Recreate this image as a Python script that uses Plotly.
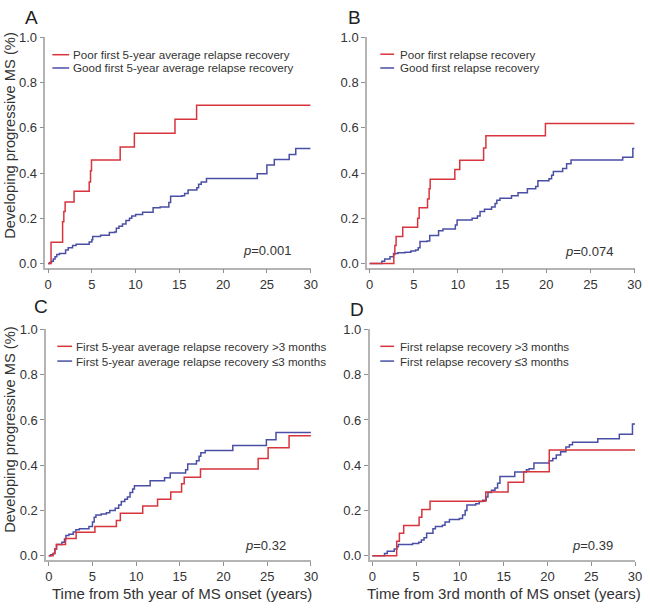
import plotly.graph_objects as go

# ---------------- data ----------------
A_red_t = [0, 0.34, 1.66, 1.8, 1.95, 2.97, 4.7, 4.85, 4.96, 8.24, 9.86, 14.5, 16.97, 30]
A_red_y = [0, 0.094, 0.185, 0.23, 0.272, 0.32, 0.36, 0.41, 0.457, 0.515, 0.576, 0.637, 0.699, 0.699]
A_blue_t = [0, 0.2, 0.4, 0.6, 0.8, 1.0, 1.3, 2.0, 2.3, 2.8, 3.2, 4.7, 5.0, 5.1, 6.0, 7.0, 7.6, 7.8, 8.1,
            8.5, 8.9, 9.3, 9.56, 10.0, 10.8, 12.0, 12.8, 13.8, 14.0, 15.3, 15.6, 16.0, 17.0, 17.2, 17.5,
            18.1, 23.9, 25.0, 25.85, 27.55, 28.3, 30]
A_blue_y = [0, 0.005, 0.01, 0.02, 0.03, 0.04, 0.045, 0.06, 0.07, 0.08, 0.085, 0.095, 0.105, 0.12, 0.125,
            0.137, 0.14, 0.156, 0.165, 0.175, 0.19, 0.2, 0.21, 0.217, 0.227, 0.247, 0.25, 0.27, 0.297, 0.30,
            0.31, 0.325, 0.335, 0.35, 0.36, 0.376, 0.397, 0.435, 0.46, 0.482, 0.508, 0.508]

B_red_t = [0, 2.73, 2.85, 2.99, 3.74, 5.43, 5.6, 6.55, 6.73, 6.85, 9.64, 10.2, 12.9, 13.16, 19.9, 30]
B_red_y = [0, 0.04, 0.08, 0.12, 0.16, 0.2, 0.247, 0.285, 0.33, 0.372, 0.416, 0.456, 0.511, 0.565, 0.619, 0.619]
B_blue_t = [0, 1.38, 1.7, 2.3, 2.7, 3.2, 4.0, 4.67, 5.2, 5.5, 5.7, 6.5, 6.8, 7.8, 8.3, 9.7, 9.9, 11.6, 12.2,
            12.5, 13.0, 13.8, 14.2, 14.4, 14.75, 16.06, 16.8, 17.86, 18.8, 19.05, 20.3, 20.6, 20.8, 21.85,
            22.3, 22.8, 28.65, 29.8, 30]
B_blue_y = [0, 0.01, 0.02, 0.03, 0.045, 0.048, 0.05, 0.055, 0.06, 0.07, 0.097, 0.10, 0.124, 0.145, 0.153,
            0.17, 0.192, 0.2, 0.21, 0.23, 0.24, 0.25, 0.265, 0.28, 0.289, 0.30, 0.313, 0.33, 0.34, 0.366,
            0.375, 0.39, 0.407, 0.42, 0.441, 0.457, 0.47, 0.508, 0.508]

C_red_t = [0, 0.49, 0.7, 0.87, 1.92, 3.13, 5.28, 7.74, 8.19, 10.75, 12.45, 13.96, 15.2, 15.5, 17.36,
           23.96, 25.1, 27.5, 30]
C_red_y = [0, 0.01, 0.03, 0.05, 0.077, 0.104, 0.13, 0.156, 0.188, 0.22, 0.25, 0.282, 0.318, 0.347, 0.383,
           0.43, 0.477, 0.53, 0.53]
C_blue_t = [0, 0.2, 0.5, 0.7, 0.9, 1.5, 1.8, 1.96, 2.3, 2.8, 3.1, 3.5, 4.6, 5.0, 5.2, 5.4, 6.0, 6.6, 6.98,
            7.6, 8.0, 8.3, 8.7, 9.0, 9.3, 9.6, 9.8, 11.6, 13.25, 13.9, 15.66, 15.9, 16.9, 17.2, 17.4, 17.9,
            21.06, 24.9, 26.0, 30]
C_blue_y = [0, 0.005, 0.01, 0.03, 0.05, 0.06, 0.075, 0.09, 0.095, 0.105, 0.115, 0.12, 0.13, 0.15, 0.17,
            0.18, 0.185, 0.19, 0.2, 0.21, 0.225, 0.24, 0.25, 0.26, 0.28, 0.295, 0.31, 0.332, 0.345, 0.366,
            0.38, 0.405, 0.42, 0.44, 0.455, 0.465, 0.487, 0.513, 0.545, 0.545]

D_red_t = [0, 2.78, 3.09, 3.58, 5.34, 5.65, 6.59, 12.95, 15.5, 17.28, 20.2, 30]
D_red_y = [0, 0.065, 0.10, 0.134, 0.17, 0.205, 0.241, 0.282, 0.325, 0.371, 0.467, 0.467]
D_blue_t = [0, 1.39, 1.7, 2.5, 2.8, 2.97, 4.59, 5.3, 5.6, 5.9, 6.2, 6.92, 7.2, 8.0, 8.3, 8.8, 9.94, 10.3,
            10.6, 10.8, 11.8, 12.2, 12.6, 13.0, 13.2, 13.6, 14.0, 14.3, 14.57, 16.26, 17.6, 17.9, 18.45,
            20.2, 20.6, 21.0, 21.5, 22.1, 22.5, 22.85, 25.74, 28.2, 29.7, 30]
D_blue_y = [0, 0.01, 0.02, 0.03, 0.04, 0.05, 0.055, 0.06, 0.07, 0.08, 0.10, 0.12, 0.13, 0.135, 0.15, 0.16,
            0.165, 0.18, 0.2, 0.224, 0.23, 0.24, 0.245, 0.26, 0.28, 0.29, 0.30, 0.32, 0.35, 0.37, 0.38,
            0.385, 0.41, 0.42, 0.43, 0.445, 0.46, 0.48, 0.49, 0.501, 0.517, 0.537, 0.582, 0.582]

panel_letters = ["A", "B", "C", "D"]
legend_red = ["Poor first 5-year average relapse recovery", "Poor first relapse recovery",
              "First 5-year average relapse recovery >3 months", "First relapse recovery >3 months"]
legend_blue = ["Good first 5-year average relapse recovery", "Good first relapse recovery",
               "First 5-year average relapse recovery \u22643 months", "First relapse recovery \u22643 months"]
p_values = ["0.001", "0.074", "0.32", "0.39"]
x_titles = ["Time from 5th year of MS onset (years)", "Time from 3rd month of MS onset (years)"]
y_title = "Developing progressive MS (%)"
x_ticks = [0, 5, 10, 15, 20, 25, 30]
y_ticks = [0.0, 0.2, 0.4, 0.6, 0.8, 1.0]

series = [(A_red_t, A_red_y, A_blue_t, A_blue_y), (B_red_t, B_red_y, B_blue_t, B_blue_y),
          (C_red_t, C_red_y, C_blue_t, C_blue_y), (D_red_t, D_red_y, D_blue_t, D_blue_y)]

# ---------------- layout geometry (pixels) ----------------
W, H = 650, 608
RED = "#d8343c"
BLUE = "#4a4fa5"
FONT = "Liberation Sans, Arial, sans-serif"
TXT = "#333333"

# (x_left_px, x_right_px, y_top_px, y_bottom_px)
boxes = [(45.0, 313.5, 30.7, 265.0), (370.6, 641.5, 30.7, 265.0),
         (45.7, 313.8, 327.7, 562.2), (373.3, 642.0, 327.7, 562.2)]
letter_pos = [(31, 11), (358, 11), (40, 304), (360, 308)]
legend_pos = [(52, 69, 71, 48.5, 62), (384, 398, 402, 48, 62),
              (57, 72, 74, 345, 360), (384, 398, 402, 345, 360)]
p_pos = [(296, 248), (622, 249), (291, 548), (622, 548)]


def px(x):
    return x / W


def py(y):
    return 1 - y / H


fig = go.Figure()
layout = dict(width=W, height=H, margin=dict(l=0, r=0, t=0, b=0),
              paper_bgcolor="white", plot_bgcolor="white", showlegend=False,
              font=dict(family=FONT, color=TXT))
annotations = []
shapes = []

for i, (rt, ry, bt, by) in enumerate(series):
    n = "" if i == 0 else str(i + 1)
    xa, ya = "x" + n, "y" + n
    fig.add_trace(go.Scatter(x=bt, y=by, mode="lines", line=dict(color=BLUE, width=1.5, shape="hv"),
                             xaxis=xa, yaxis=ya))
    fig.add_trace(go.Scatter(x=rt, y=ry, mode="lines", line=dict(color=RED, width=1.5, shape="hv"),
                             xaxis=xa, yaxis=ya))
    l, r, t, b = boxes[i]
    common = dict(showline=True, linecolor="#b4b4b4", linewidth=1.5, ticks="outside", ticklen=4,
                  tickcolor="#909090", tickwidth=1, showgrid=False, zeroline=False,
                  tickfont=dict(size=13, color=TXT, family=FONT))
    layout["xaxis" + n] = dict(domain=[px(l), px(r)], range=[-0.3, 30.0], anchor=ya,
                               tickvals=x_ticks, ticktext=[str(v) for v in x_ticks], **common)
    layout["yaxis" + n] = dict(domain=[py(b), py(t)], range=[-0.018, 1.0], anchor=xa,
                               tickvals=y_ticks, ticktext=["%.1f" % v for v in y_ticks], **common)

    lx, ly = letter_pos[i]
    annotations.append(dict(text=panel_letters[i], x=px(lx), y=py(ly), xref="paper", yref="paper",
                            showarrow=False, xanchor="center", yanchor="middle",
                            font=dict(size=19, color="#222222", family=FONT)))
    x0, x1, tx, y1, y2 = legend_pos[i]
    for yy, col, txt in ((y1, RED, legend_red[i]), (y2, BLUE, legend_blue[i])):
        shapes.append(dict(type="line", xref="paper", yref="paper", x0=px(x0), x1=px(x1),
                           y0=py(yy), y1=py(yy), line=dict(color=col, width=1.5)))
        annotations.append(dict(text=txt, x=px(tx), y=py(yy), xref="paper", yref="paper",
                                showarrow=False, xanchor="left", yanchor="middle",
                                font=dict(size=11.6, color=TXT, family=FONT)))
    pxx, pyy = p_pos[i]
    annotations.append(dict(text="<i>p</i>=" + p_values[i], x=px(pxx), y=py(pyy), xref="paper",
                            yref="paper", showarrow=False, xanchor="right", yanchor="middle",
                            font=dict(size=13, color=TXT, family=FONT)))

# axis titles
for yc in (130, 429):
    annotations.append(dict(text=y_title, x=px(9), y=py(yc), xref="paper", yref="paper", textangle=-90,
                            showarrow=False, xanchor="center", yanchor="middle",
                            font=dict(size=14.7, color=TXT, family=FONT)))
annotations.append(dict(text=x_titles[0], x=px(183), y=py(596), xref="paper", yref="paper",
                        showarrow=False, xanchor="center", yanchor="middle",
                        font=dict(size=15, color=TXT, family=FONT)))
annotations.append(dict(text=x_titles[1], x=px(509), y=py(596), xref="paper", yref="paper",
                        showarrow=False, xanchor="center", yanchor="middle",
                        font=dict(size=15, color=TXT, family=FONT)))

layout["annotations"] = annotations
layout["shapes"] = shapes
fig.update_layout(**layout)
fig.write_html("out.html", config={"displayModeBar": False},
               post_script="document.body.style.margin='0';document.body.style.padding='0';"
                           "document.body.style.overflow='hidden';")
